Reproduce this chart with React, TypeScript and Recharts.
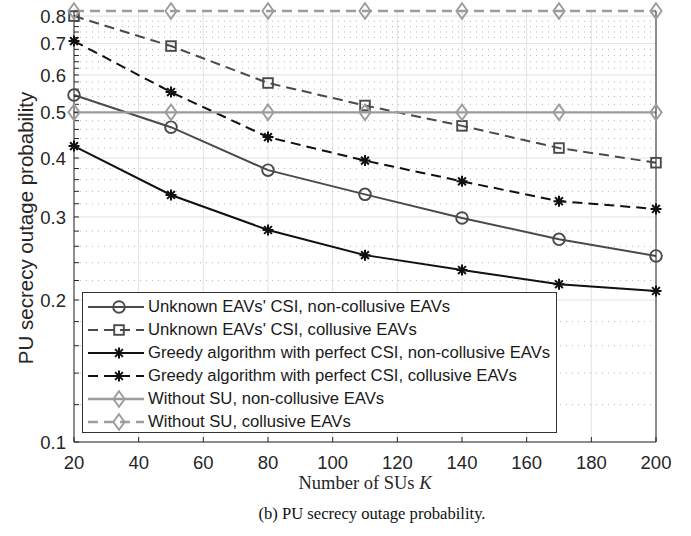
import React from 'react';
import { LineChart, Line, XAxis, YAxis, CartesianGrid, ReferenceLine } from 'recharts';

const xCategories = [20, 50, 80, 110, 140, 170, 200];
const unknownNonCollusive = [0.544, 0.465, 0.377, 0.335, 0.2985, 0.269, 0.248];
const unknownCollusive = [0.8, 0.691, 0.577, 0.517, 0.468, 0.42, 0.391];
const greedyNonCollusive = [0.424, 0.334, 0.2815, 0.249, 0.2315, 0.216, 0.209];
const greedyCollusive = [0.708, 0.552, 0.443, 0.395, 0.357, 0.324, 0.312];
const withoutSuNonCollusive = [0.5, 0.5, 0.5, 0.5, 0.5, 0.5, 0.5];
const withoutSuCollusive = [0.82, 0.82, 0.82, 0.82, 0.82, 0.82, 0.82];

const xTicks = [20, 40, 60, 80, 100, 120, 140, 160, 180, 200];
const yMajorTicks = [0.1, 0.2, 0.3, 0.4, 0.5, 0.6, 0.7, 0.8];
const yMinorTicks = [
  0.12, 0.14, 0.16, 0.18, 0.22, 0.24, 0.26, 0.28, 0.32, 0.34, 0.36, 0.38,
  0.42, 0.44, 0.46, 0.48, 0.52, 0.54, 0.56, 0.58, 0.62, 0.64, 0.66, 0.68,
  0.72, 0.74, 0.76, 0.78,
];
const yDomain = [0.1, 0.82];
const xDomain = [20, 200];

const legendLabels = [
  "Unknown EAVs' CSI, non-collusive EAVs",
  "Unknown EAVs' CSI, collusive EAVs",
  'Greedy algorithm with perfect CSI, non-collusive EAVs',
  'Greedy algorithm with perfect CSI, collusive EAVs',
  'Without SU, non-collusive EAVs',
  'Without SU, collusive EAVs',
];

const seriesValues = [
  unknownNonCollusive,
  unknownCollusive,
  greedyNonCollusive,
  greedyCollusive,
  withoutSuNonCollusive,
  withoutSuCollusive,
];

type Shape = 'circle' | 'square' | 'star' | 'diamond';
const seriesStyle: { key: string; color: string; dash?: string; shape: Shape; width: number }[] = [
  { key: 's0', color: '#4a4a4a', shape: 'circle', width: 2 },
  { key: 's1', color: '#4a4a4a', dash: '10 6', shape: 'square', width: 2 },
  { key: 's2', color: '#111111', shape: 'star', width: 2 },
  { key: 's3', color: '#111111', dash: '10 6', shape: 'star', width: 2 },
  { key: 's4', color: '#9c9c9c', shape: 'diamond', width: 2.4 },
  { key: 's5', color: '#9c9c9c', dash: '10 6', shape: 'diamond', width: 2.4 },
];

const data = xCategories.map((k, i) => {
  const row: Record<string, number> = { k };
  seriesValues.forEach((vals, j) => {
    row['s' + j] = vals[i];
  });
  return row;
});

const allYTicks = [...yMajorTicks, ...yMinorTicks].sort((a, b) => a - b);
const isMajor = (v: number) => yMajorTicks.some((m) => Math.abs(m - v) < 1e-9);

function Marker({ shape, cx, cy, color }: { shape: Shape; cx: number; cy: number; color: string }) {
  if (cx == null || cy == null || isNaN(cx) || isNaN(cy)) return <g />;
  if (shape === 'circle') {
    return <circle cx={cx} cy={cy} r={5.8} fill="none" stroke={color} strokeWidth={1.9} />;
  }
  if (shape === 'square') {
    return <rect x={cx - 4.8} y={cy - 4.8} width={9.6} height={9.6} fill="none" stroke={color} strokeWidth={1.9} />;
  }
  if (shape === 'star') {
    const r = 5.5;
    const d = 3.9;
    return (
      <path
        d={`M${cx - r} ${cy}H${cx + r}M${cx} ${cy - r}V${cy + r}M${cx - d} ${cy - d}L${cx + d} ${cy + d}M${cx - d} ${cy + d}L${cx + d} ${cy - d}`}
        stroke={color}
        strokeWidth={2}
        fill="none"
      />
    );
  }
  return (
    <path
      d={`M${cx} ${cy - 7.8}L${cx + 5.6} ${cy}L${cx} ${cy + 7.8}L${cx - 5.6} ${cy}Z`}
      fill="none"
      stroke={color}
      strokeWidth={1.9}
    />
  );
}

const textColor = '#262626';
const sans = '"Liberation Sans", Arial, Helvetica, sans-serif';
const serif = '"Liberation Serif", "Times New Roman", serif';

function LegendBox() {
  return (
    <div
      style={{
        position: 'absolute',
        left: 82,
        top: 292,
        width: 475,
        height: 141,
        boxSizing: 'border-box',
        border: '1px solid #333',
        background: '#fff',
      }}
    >
      {legendLabels.map((label, i) => {
        const s = seriesStyle[i];
        return (
          <div key={label} style={{ position: 'absolute', left: 0, top: 14 + 23 * i - 11, height: 22, width: 470 }}>
            <svg width={60} height={22} style={{ position: 'absolute', left: 5, top: 0 }}>
              <line x1={0} y1={11} x2={56} y2={11} stroke={s.color} strokeWidth={s.width} strokeDasharray={s.dash} />
              <Marker shape={s.shape} cx={31} cy={11} color={s.color} />
            </svg>
            <div
              style={{
                position: 'absolute',
                left: 65,
                top: 0,
                lineHeight: '22px',
                fontFamily: sans,
                fontSize: 16.7,
                color: '#1a1a1a',
                whiteSpace: 'nowrap',
              }}
            >
              {label}
            </div>
          </div>
        );
      })}
    </div>
  );
}

export default function App() {
  return (
    <div style={{ position: 'fixed', left: 0, top: 0, width: 691, height: 536, background: '#fff', overflow: 'hidden' }}>
      <LineChart width={691} height={536} data={data} margin={{ top: 11, right: 0, bottom: 66, left: 0 }}>
        <CartesianGrid xAxisId="x" yAxisId="y" horizontal={false} vertical={true} stroke="#e2e2e2" strokeWidth={1} />
        {yMinorTicks.map((v) => (
          <ReferenceLine
            key={'mn' + v}
            xAxisId="x"
            yAxisId="y"
            y={v}
            stroke="#b5b5b5"
            strokeWidth={1}
            strokeDasharray="1 5"
            zIndex={-60}
          />
        ))}
        {yMajorTicks.map((v) => (
          <ReferenceLine key={'mj' + v} xAxisId="x" yAxisId="y" y={v} stroke="#e2e2e2" strokeWidth={1} zIndex={-60} />
        ))}
        <XAxis
          xAxisId="x"
          dataKey="k"
          type="number"
          domain={xDomain}
          ticks={xTicks}
          tickSize={-5}
          tickMargin={18.5}
          height={28}
          stroke={textColor}
          tick={{ fill: textColor, fontFamily: sans, fontSize: 18.5 }}
          axisLine={{ stroke: textColor }}
          tickLine={{ stroke: textColor }}
          interval={0}
        />
        <XAxis
          xAxisId="xt"
          orientation="top"
          type="number"
          domain={xDomain}
          allowDataOverflow
          ticks={xTicks}
          tick={false}
          tickSize={-5}
          height={0}
          axisLine={{ stroke: textColor }}
          tickLine={{ stroke: textColor }}
          interval={0}
        />
        <YAxis
          yAxisId="y"
          type="number"
          scale="log"
          domain={yDomain}
          ticks={allYTicks}
          tickFormatter={(v: number) => (isMajor(v) ? String(v) : '')}
          tickSize={-5}
          tickMargin={13}
          width={74}
          interval={0}
          tick={{ fill: textColor, fontFamily: sans, fontSize: 18.5 }}
          axisLine={{ stroke: textColor }}
          tickLine={{ stroke: textColor }}
        />
        <YAxis
          yAxisId="yr"
          orientation="right"
          type="number"
          scale="log"
          domain={yDomain}
          allowDataOverflow
          ticks={allYTicks}
          tick={false}
          tickSize={-5}
          width={35}
          interval={0}
          axisLine={{ stroke: textColor }}
          tickLine={{ stroke: textColor }}
        />
        {seriesStyle.map((s) => (
          <Line
            key={s.key}
            xAxisId="x"
            yAxisId="y"
            type="linear"
            dataKey={s.key}
            stroke={s.color}
            strokeWidth={s.width}
            strokeDasharray={s.dash}
            isAnimationActive={false}
            activeDot={false}
            dot={(p: any) => <Marker key={s.key + '-' + p.index} shape={s.shape} cx={p.cx} cy={p.cy} color={s.color} />}
          />
        ))}
      </LineChart>
      <LegendBox />
      <div
        style={{
          position: 'absolute',
          left: -174,
          top: 216,
          width: 400,
          height: 24,
          lineHeight: '24px',
          textAlign: 'center',
          transform: 'rotate(-90deg)',
          fontFamily: sans,
          fontSize: 20.5,
          color: textColor,
          whiteSpace: 'nowrap',
        }}
      >
        PU secrecy outage probability
      </div>
      <div
        style={{
          position: 'absolute',
          left: 165,
          top: 471,
          width: 400,
          lineHeight: '24px',
          textAlign: 'center',
          fontFamily: serif,
          fontSize: 18.5,
          color: textColor,
          whiteSpace: 'nowrap',
        }}
      >
        Number of SUs <i>K</i>
      </div>
      <div
        style={{
          position: 'absolute',
          left: 172,
          top: 502,
          width: 400,
          lineHeight: '24px',
          textAlign: 'center',
          fontFamily: serif,
          fontSize: 16.6,
          color: '#111',
          whiteSpace: 'nowrap',
        }}
      >
        (b) PU secrecy outage probability.
      </div>
    </div>
  );
}
